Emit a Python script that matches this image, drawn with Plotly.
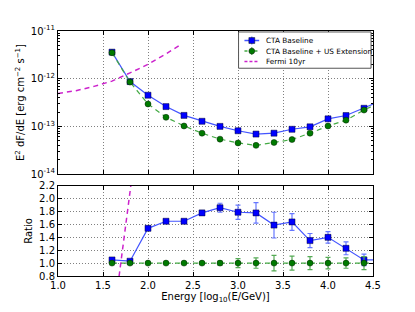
import plotly.graph_objects as go
from plotly.subplots import make_subplots

energy = [1.6, 1.8, 2.0, 2.2, 2.4, 2.6, 2.8, 3.0, 3.2, 3.4, 3.6, 3.8, 4.0, 4.2, 4.4, 4.6]
cta_base = [3.6e-12, 8.7e-13, 4.5e-13, 2.6e-13, 1.7e-13, 1.28e-13, 1.0e-13, 8.1e-14,
            6.9e-14, 7.2e-14, 8.7e-14, 9.8e-14, 1.44e-13, 1.69e-13, 2.4e-13, 3.5e-13]
cta_us = [3.5e-12, 8.5e-13, 2.95e-13, 1.55e-13, 1.02e-13, 7.2e-14, 5.4e-14, 4.5e-14,
          4.0e-14, 4.6e-14, 5.3e-14, 7.2e-14, 1.02e-13, 1.35e-13, 2.2e-13, 3.3e-13]
ratio_base = [1.05, 1.03, 1.54, 1.65, 1.65, 1.78, 1.86, 1.79, 1.78, 1.59, 1.64, 1.35,
              1.40, 1.23, 1.05, 1.05]
ratio_base_err = [0.02, 0.02, 0.02, 0.02, 0.02, 0.04, 0.07, 0.11, 0.16, 0.20, 0.13,
                  0.11, 0.09, 0.10, 0.09, 0.09]
ratio_us = [1.0] * 16
ratio_us_err = [0.01, 0.01, 0.01, 0.01, 0.01, 0.02, 0.03, 0.07, 0.08, 0.12, 0.11,
                0.10, 0.09, 0.08, 0.10, 0.10]
fermi_x = [1.0, 1.2, 1.4, 1.6, 1.8, 2.0, 2.2, 2.37]
fermi_y = [4.9e-13, 5.6e-13, 6.9e-13, 8.9e-13, 1.32e-12, 2.0e-12, 3.3e-12, 5.3e-12]
fermi_ratio_x = [1.64, 1.72, 1.80, 1.86]
fermi_ratio_y = [0.38, 1.24, 2.10, 2.75]
legend_labels = ["CTA Baseline", "CTA Baseline + US Extension", "Fermi 10yr"]

BLUE = "#0000ff"
BLUE_LINE = "#4455ff"
GREEN = "#007a00"
GREEN_LINE = "#44aa44"
MAG = "#cc22cc"
FONT = "DejaVu Sans"

# page body has an 8px default margin; size the figure so the plot area lands
# at the same page pixels as the reference
OFF = 8
W, H = 415 - OFF, 312 - OFF
PL, PR, PT, PB = 52, 373, 31, 281          # plot-area edges in page pixels
ML, MR, MT, MB = PL - OFF, 415 - PR, PT - OFF, 312 - PB
PW, PH = PR - PL, PB - PT


def px2paper(px, py):
    return (px - PL) / PW, (PB - py) / PH


fig = make_subplots(rows=2, cols=1, shared_xaxes=False)

mk_sq = dict(symbol="square", size=6, color=BLUE, line=dict(color="#000033", width=0.5))
mk_ci = dict(symbol="circle", size=6, color=GREEN, line=dict(color="#002200", width=0.5))

fig.add_trace(go.Scatter(x=energy, y=cta_base, mode="lines+markers", name=legend_labels[0],
                         line=dict(color=BLUE_LINE, width=1.2), marker=mk_sq), row=1, col=1)
fig.add_trace(go.Scatter(x=energy, y=cta_us, mode="lines+markers", name=legend_labels[1],
                         line=dict(color=GREEN_LINE, width=1.2, dash="5px,4px"), marker=mk_ci),
              row=1, col=1)
fig.add_trace(go.Scatter(x=fermi_x, y=fermi_y, mode="lines", name=legend_labels[2],
                         line=dict(color=MAG, width=1.5, dash="5px,4px")), row=1, col=1)

fig.add_trace(go.Scatter(x=energy, y=ratio_base, mode="lines+markers",
                         line=dict(color=BLUE_LINE, width=1.2), marker=mk_sq,
                         error_y=dict(type="data", array=ratio_base_err, color="#6677ff",
                                      thickness=1.2, width=2.5)), row=2, col=1)
fig.add_trace(go.Scatter(x=energy, y=ratio_us, mode="lines+markers",
                         line=dict(color=GREEN_LINE, width=1.2, dash="5px,4px"), marker=mk_ci,
                         error_y=dict(type="data", array=ratio_us_err, color="#55aa55",
                                      thickness=1.2, width=2.5)), row=2, col=1)
fig.add_trace(go.Scatter(x=fermi_ratio_x, y=fermi_ratio_y, mode="lines",
                         line=dict(color=MAG, width=1.5, dash="5px,4px")), row=2, col=1)

ax_common = dict(showline=True, linecolor="black", linewidth=1, mirror="allticks",
                 ticks="inside", ticklen=4, tickcolor="black", showgrid=True,
                 gridcolor="#808080", griddash="1px,2px", gridwidth=1, zeroline=False,
                 tickfont=dict(family=FONT, size=10, color="black"))

xt = [1.0, 1.5, 2.0, 2.5, 3.0, 3.5, 4.0, 4.5]
fig.update_xaxes(range=[1.0, 4.5], tickvals=xt, **ax_common)
fig.update_xaxes(showticklabels=False, row=1, col=1)
fig.update_xaxes(ticktext=[f"{v:.1f}" for v in xt], row=2, col=1,
                 title=dict(text="Energy [log<sub>10</sub>(E/GeV)]",
                            font=dict(family=FONT, size=10, color="black"), standoff=2))

minor_vals = [m * 10.0 ** k for k in range(-14, -11) for m in range(2, 10)]
fig.update_yaxes(type="log", range=[-14, -11], row=1, col=1,
                 tickvals=[1e-14, 1e-13, 1e-12, 1e-11],
                 ticktext=["10<sup>-14</sup>", "10<sup>-13</sup>", "10<sup>-12</sup>", "10<sup>-11</sup>"],
                 minor=dict(tickvals=minor_vals, ticks="inside", ticklen=2, tickcolor="black",
                            showgrid=False),
                 title=dict(text="E<sup>2</sup> dF/dE [erg cm<sup>−2</sup> s<sup>−1</sup>]",
                            font=dict(family=FONT, size=10, color="black"), standoff=4),
                 **ax_common)
yt = [0.8, 1.0, 1.2, 1.4, 1.6, 1.8, 2.0, 2.2]
fig.update_yaxes(range=[0.8, 2.2], tickvals=yt, ticktext=[f"{v:.1f}" for v in yt],
                 row=2, col=1,
                 title=dict(text="Ratio", font=dict(family=FONT, size=10, color="black"),
                            standoff=4),
                 **ax_common)

# ---- compact legend (drawn manually to match matplotlib's tight legend) ----
shapes = []
annotations = []
bx0, by0 = px2paper(236, 69)
bx1, by1 = px2paper(371, 32)
shapes.append(dict(type="rect", xref="paper", yref="paper", x0=bx0, y0=by0, x1=bx1, y1=by1,
                   line=dict(color="#555555", width=1), fillcolor="white", layer="above"))
rows_py = [40.7, 51.5, 62.0]
styles = [(BLUE_LINE, "solid", "square", BLUE, "#6677ff"),
          (GREEN_LINE, "dash", "circle", GREEN, "#55aa55"),
          (MAG, "dash", None, None, None)]
for py, lab, (lc, ld, msym, mc, ec) in zip(rows_py, legend_labels, styles):
    lx0, ly = px2paper(242, py)
    lx1, _ = px2paper(257, py)
    shapes.append(dict(type="line", xref="paper", yref="paper", x0=lx0, x1=lx1, y0=ly, y1=ly,
                       line=dict(color=lc, width=1.5, dash=("3px,2px" if ld == "dash" else "solid")),
                       layer="above"))
    if msym:
        ex, ey0 = px2paper(249.5, py + 4)
        _, ey1 = px2paper(249.5, py - 4)
        shapes.append(dict(type="line", xref="paper", yref="paper", x0=ex, x1=ex, y0=ey0, y1=ey1,
                           line=dict(color=ec, width=1.2), layer="above"))
        mx0, my0 = px2paper(246.5, py + 3)
        mx1, my1 = px2paper(252.5, py - 3)
        shapes.append(dict(type=("rect" if msym == "square" else "circle"), xref="paper",
                           yref="paper", x0=mx0, x1=mx1, y0=my0, y1=my1,
                           fillcolor=mc, line=dict(color="#001100", width=0.5), layer="above"))
    tx, ty = px2paper(262, py)
    annotations.append(dict(x=tx, y=ty, xref="paper", yref="paper", text=lab, showarrow=False,
                            xanchor="left", yanchor="middle",
                            font=dict(family=FONT, size=7.3, color="black")))

fig.update_layout(
    width=W, height=H,
    margin=dict(l=ML, r=MR, t=MT, b=MB),
    paper_bgcolor="white", plot_bgcolor="white",
    font=dict(family=FONT, size=10, color="black"),
    showlegend=False,
    xaxis=dict(domain=[0, 1]), xaxis2=dict(domain=[0, 1]),
    yaxis=dict(domain=[0.416, 1.0]), yaxis2=dict(domain=[0.0, 0.368]),
    shapes=shapes, annotations=annotations,
)

fig.write_html("out.html")
